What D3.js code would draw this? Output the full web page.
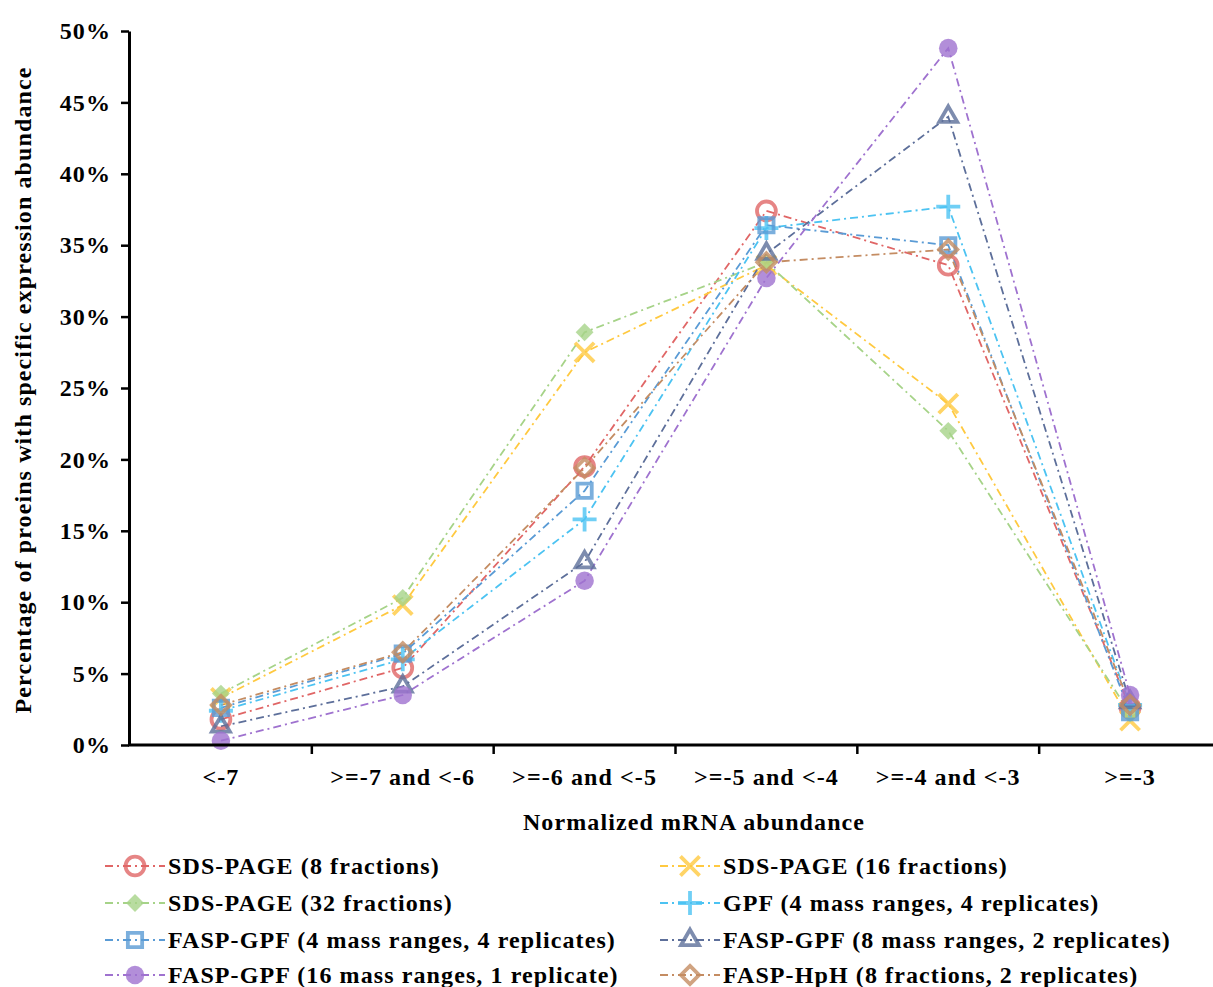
<!DOCTYPE html>
<html>
<head>
<meta charset="utf-8">
<script src="https://cdn.jsdelivr.net/npm/d3@7"></script>
<style>
  body { margin: 0; background: #fff; }
  svg { display: block; font-family: "Liberation Serif", "Times New Roman", serif; }
  svg text { letter-spacing: 1.1px; }
</style>
</head>
<body>
<div id="chart"></div>
<script>
// Data
const categories = ["<-7", ">=-7 and <-6", ">=-6 and <-5", ">=-5 and <-4", ">=-4 and <-3", ">=-3"];
const seriesNames = [
    "SDS-PAGE (8 fractions)",
    "SDS-PAGE (16 fractions)",
    "SDS-PAGE (32 fractions)",
    "GPF (4 mass ranges, 4 replicates)",
    "FASP-GPF (4 mass ranges, 4 replicates)",
    "FASP-GPF (8 mass ranges, 2 replicates)",
    "FASP-GPF (16 mass ranges, 1 replicate)",
    "FASP-HpH (8 fractions, 2 replicates)"
];
const sds8 = [1.8, 5.4, 19.5, 37.4, 33.6, 2.6];
const sds16 = [3.3, 9.8, 27.5, 33.6, 23.9, 1.7];
const sds32 = [3.6, 10.3, 28.9, 33.8, 22.0, 2.2];
const gpf44 = [2.4, 6.0, 15.8, 36.2, 37.7, 2.8];
const faspGpf44 = [2.6, 6.4, 17.8, 36.4, 35.0, 2.3];
const faspGpf82 = [1.3, 4.1, 12.8, 34.4, 44.0, 3.0];
const faspGpf161 = [0.3, 3.5, 11.5, 32.7, 48.8, 3.5];
const faspHph82 = [2.8, 6.5, 19.4, 33.8, 34.7, 2.8];
const yTicks = [0, 5, 10, 15, 20, 25, 30, 35, 40, 45, 50];

const seriesValues = [sds8, sds16, sds32, gpf44, faspGpf44, faspGpf82, faspGpf161, faspHph82];
const colors = ["#e06666", "#ffc940", "#a6d388", "#4cc3f2", "#5a9bd5", "#5d6f9a", "#9f72cf", "#c48c62"];
// marker type per series: symbol, size, filled, rotation
const markers = [
    { sym: d3.symbolCircle, size: 280, fill: false, rot: 0 },
    { sym: d3.symbolTimes, size: 240, fill: false, rot: 0 },
    { sym: d3.symbolSquare, size: 160, fill: true, rot: 45 },
    { sym: d3.symbolPlus, size: 190, fill: false, rot: 0 },
    { sym: d3.symbolSquare2, size: 260, fill: false, rot: 0 },
    { sym: d3.symbolTriangle2, size: 230, fill: false, rot: 0 },
    { sym: d3.symbolCircle, size: 270, fill: true, rot: 0 },
    { sym: d3.symbolDiamond2, size: 210, fill: false, rot: 0 }
];

const width = 1213;
const height = 987;
const marginLeft = 129;
const plotTop = 31;
const plotBottom = 745;

const svg = d3.select("#chart").append("svg")
    .attr("width", width)
    .attr("height", height);

const x = d3.scaleBand()
    .domain(categories)
    .range([130, 1221]);

const y = d3.scaleLinear()
    .domain([0, 50])
    .range([plotBottom, plotTop]);

const cx = d => x(d) + x.bandwidth() / 2;

// lines
const line = d3.line()
    .x((d, i) => cx(categories[i]))
    .y(d => y(d));

const dash = "8,4,2,4";

seriesValues.forEach((vals, s) => {
    svg.append("path")
        .datum(vals)
        .attr("fill", "none")
        .attr("stroke", colors[s])
        .attr("stroke-width", 1.8)
        .attr("stroke-dasharray", dash)
        .attr("d", line);
});

function drawMarker(g, s, px, py) {
    const m = markers[s];
    g.append("path")
        .attr("transform", `translate(${px},${py}) rotate(${m.rot})`)
        .attr("d", d3.symbol(m.sym, m.size)())
        .attr("fill", m.fill ? colors[s] : "none")
        .attr("stroke", m.fill ? "none" : colors[s])
        .attr("stroke-width", 3.8)
        .attr("opacity", 0.8);
}

seriesValues.forEach((vals, s) => {
    const g = svg.append("g");
    vals.forEach((v, i) => drawMarker(g, s, cx(categories[i]), y(v)));
});

// y axis
const yAxis = svg.append("g")
    .attr("transform", `translate(${marginLeft},0)`)
    .call(d3.axisLeft(y).tickValues(yTicks).tickSize(8).tickSizeOuter(0).tickFormat(d => d + "%"));
yAxis.select(".domain").attr("stroke", "#000").attr("stroke-width", 3);
yAxis.selectAll(".tick line").attr("stroke", "#000").attr("stroke-width", 2.5);
yAxis.selectAll(".tick text")
    .attr("x", -18)
    .attr("font-family", "Liberation Serif")
    .attr("font-size", 24)
    .attr("font-weight", "bold")
    .attr("fill", "#000");

// x axis
const xAxis = svg.append("g")
    .attr("transform", `translate(0,${plotBottom})`);
xAxis.append("line")
    .attr("x1", marginLeft - 1)
    .attr("x2", width)
    .attr("stroke", "#000")
    .attr("stroke-width", 3);
xAxis.selectAll("line.tk")
    .data(categories.slice(1))
    .join("line")
    .attr("class", "tk")
    .attr("x1", d => x(d))
    .attr("x2", d => x(d))
    .attr("y1", 0)
    .attr("y2", 9)
    .attr("stroke", "#000")
    .attr("stroke-width", 2.5);
xAxis.selectAll("text")
    .data(categories)
    .join("text")
    .attr("x", d => cx(d))
    .attr("y", 40)
    .attr("text-anchor", "middle")
    .attr("font-size", 24)
    .attr("font-weight", "bold")
    .text(d => d);

// axis titles
svg.append("text")
    .attr("x", 694)
    .attr("y", 830)
    .attr("text-anchor", "middle")
    .attr("font-size", 24)
    .attr("font-weight", "bold")
    .text("Normalized mRNA abundance");

svg.append("text")
    .attr("transform", "translate(31,390) rotate(-90)")
    .attr("text-anchor", "middle")
    .attr("font-size", 24)
    .attr("font-weight", "bold")
    .text("Percentage of proeins with specific expression abundance");

// legend
const legendCols = [105, 660];
const legendRows = [866, 903, 940, 975];
seriesNames.forEach((name, s) => {
    const lx = legendCols[s % 2];
    const ly = legendRows[Math.floor(s / 2)];
    const g = svg.append("g");
    g.append("line")
        .attr("x1", lx)
        .attr("x2", lx + 60)
        .attr("y1", ly)
        .attr("y2", ly)
        .attr("stroke", colors[s])
        .attr("stroke-width", 1.8)
        .attr("stroke-dasharray", dash);
    drawMarker(g, s, lx + 30, ly);
    g.append("text")
        .attr("x", lx + 63)
        .attr("y", ly + 8)
        .attr("font-size", 24)
        .attr("font-weight", "bold")
        .text(name);
});
</script>
</body>
</html>
